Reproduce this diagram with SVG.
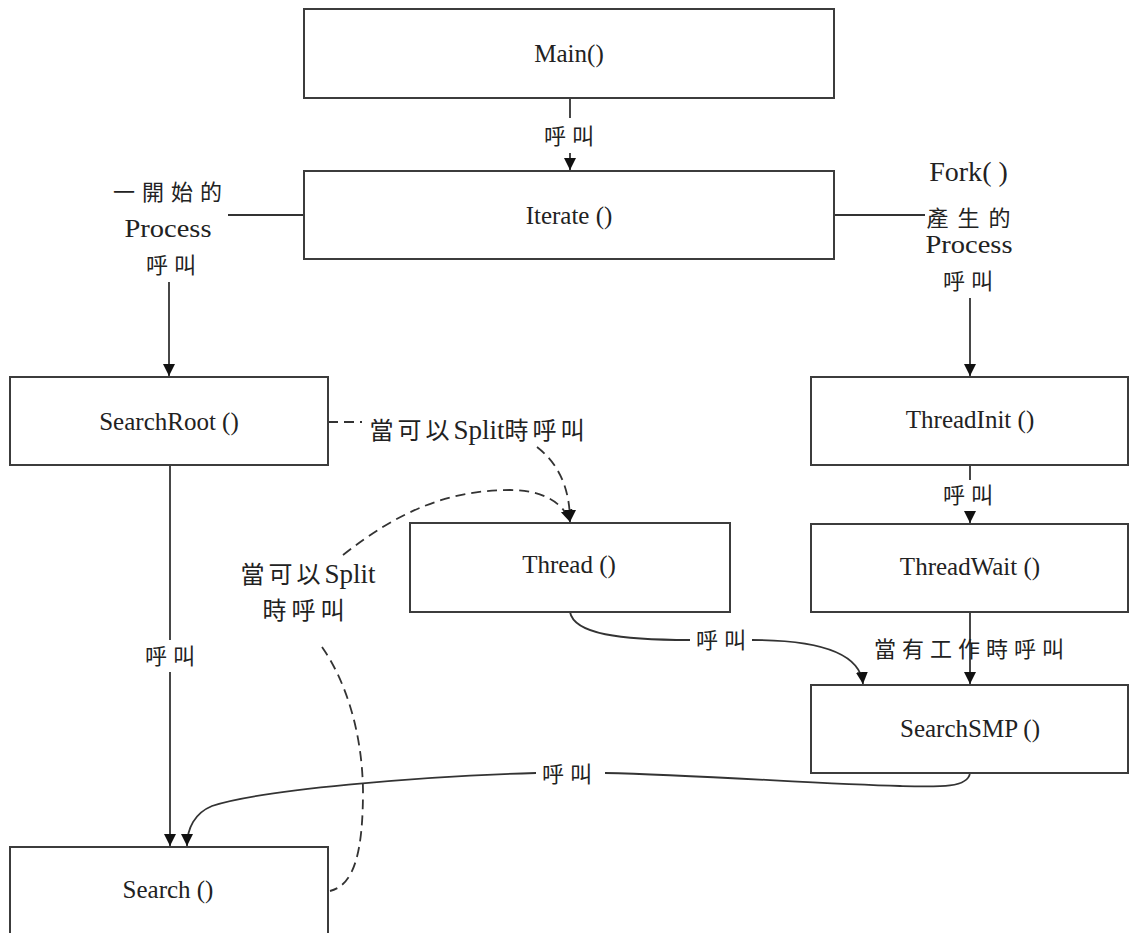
<svg xmlns="http://www.w3.org/2000/svg" width="1129" height="933" viewBox="0 0 1129 933">
<style>
.box{fill:#fff;stroke:#3c3c3c;stroke-width:2}
.lbl{font-family:"Liberation Serif","Times New Roman",serif;font-size:25px;fill:#222;text-anchor:middle}
.cjk{font-family:"Liberation Serif","Noto Sans CJK TC",serif;fill:#222;text-anchor:middle}
.ln{fill:none;stroke:#333;stroke-width:1.8}
.dash{fill:none;stroke:#333;stroke-width:1.8;stroke-dasharray:10 6}
</style>
<defs>
<marker id="arr" markerUnits="userSpaceOnUse" markerWidth="12" markerHeight="12" viewBox="0 0 10 10" refX="10" refY="5" orient="auto">
<path d="M0,0 L10,5 L0,10 z" fill="#111" stroke="none"/>
</marker>
</defs>
<rect width="1129" height="933" fill="#fff"/>

<g id="connectors">
<path class="ln" d="M570,98 V118"/>
<path class="ln" d="M570,153 V170" marker-end="url(#arr)"/>
<path class="ln" d="M304,215 H228"/>
<path class="ln" d="M834,215 H925"/>
<path class="ln" d="M169,282 V376" marker-end="url(#arr)"/>
<path class="ln" d="M970,298 V376" marker-end="url(#arr)"/>
<path class="ln" d="M970,465 V480"/>
<path class="ln" d="M970,511 V523" marker-end="url(#arr)"/>
<path class="ln" d="M970,612 V684" marker-end="url(#arr)"/>
<path class="ln" d="M170,465 V640"/>
<path class="ln" d="M170,672 V846" marker-end="url(#arr)"/>
<path class="ln" d="M570,612 C574,634 620,640 690,640"/>
<path class="ln" d="M752,640 C810,640 860,650 863,684" marker-end="url(#arr)"/>
<path class="ln" d="M970,773 C968,788 940,787 900,786 C820,784 700,775 605,773"/>
<path class="ln" d="M536,773 C420,776 260,790 212,806 C195,813 187,828 187,846" marker-end="url(#arr)"/>
<path class="dash" d="M328,422 H362"/>
<path class="dash" d="M537,447 C560,465 570,490 570,522" marker-end="url(#arr)"/>
<path class="dash" d="M343,555 C400,510 450,490 510,490 C545,490 565,505 570,522" marker-end="url(#arr)"/>
<path class="dash" d="M322,647 C345,680 362,730 363,790 C363,850 355,885 330,891"/>
<text class="cjk" x="572" y="144" font-size="22" letter-spacing="6">呼叫</text>
<text class="cjk" x="171" y="200" font-size="22" letter-spacing="7">一開始的</text>
<text class="cjk" x="168" y="237" font-size="26" textLength="87" lengthAdjust="spacingAndGlyphs">Process</text>
<text class="cjk" x="174" y="273" font-size="22" letter-spacing="6">呼叫</text>
<text class="cjk" x="972" y="181" font-size="28">Fork<tspan letter-spacing="7">()</tspan></text>
<text class="cjk" x="973" y="226" font-size="22" letter-spacing="9">產生的</text>
<text class="cjk" x="969" y="253" font-size="26" textLength="87" lengthAdjust="spacingAndGlyphs">Process</text>
<text class="cjk" x="971" y="289" font-size="22" letter-spacing="6">呼叫</text>
<text class="cjk" x="971" y="503" font-size="22" letter-spacing="6">呼叫</text>
<text class="cjk" x="972" y="657" font-size="22" letter-spacing="6">當有工作時呼叫</text>
<text class="cjk" x="724" y="648" font-size="22" letter-spacing="6">呼叫</text>
<text class="cjk" x="570" y="782" font-size="22" letter-spacing="6">呼叫</text>
<text class="cjk" x="173" y="664" font-size="22" letter-spacing="6">呼叫</text>
<text class="cjk" x="479" y="439" font-size="24"><tspan letter-spacing="4">當可以</tspan><tspan font-size="27">Split</tspan><tspan letter-spacing="4">時呼叫</tspan></text>
<text class="cjk" x="308" y="583" font-size="24"><tspan letter-spacing="4">當可以</tspan><tspan font-size="27">Split</tspan></text>
<text class="cjk" x="306" y="619" font-size="24" letter-spacing="5">時呼叫</text>
</g>

<g id="main"><rect class="box" x="304" y="9" width="530" height="89"/><text class="lbl" x="569" y="62">Main()</text></g>
<g id="iterate"><rect class="box" x="304" y="171" width="530" height="88"/><text class="lbl" x="569" y="224">Iterate ()</text></g>
<g id="searchroot"><rect class="box" x="10" y="377" width="318" height="88"/><text class="lbl" x="169" y="430">SearchRoot ()</text></g>
<g id="threadinit"><rect class="box" x="811" y="377" width="317" height="88"/><text class="lbl" x="970" y="428">ThreadInit ()</text></g>
<g id="thread"><rect class="box" x="410" y="523" width="320" height="89"/><text class="lbl" x="569" y="573">Thread ()</text></g>
<g id="threadwait"><rect class="box" x="811" y="524" width="317" height="88"/><text class="lbl" x="970" y="575">ThreadWait ()</text></g>
<g id="searchsmp"><rect class="box" x="811" y="685" width="317" height="88"/><text class="lbl" x="970" y="737">SearchSMP ()</text></g>
<g id="search"><rect class="box" x="10" y="847" width="318" height="100"/><text class="lbl" x="168" y="898">Search ()</text></g>
</svg>
